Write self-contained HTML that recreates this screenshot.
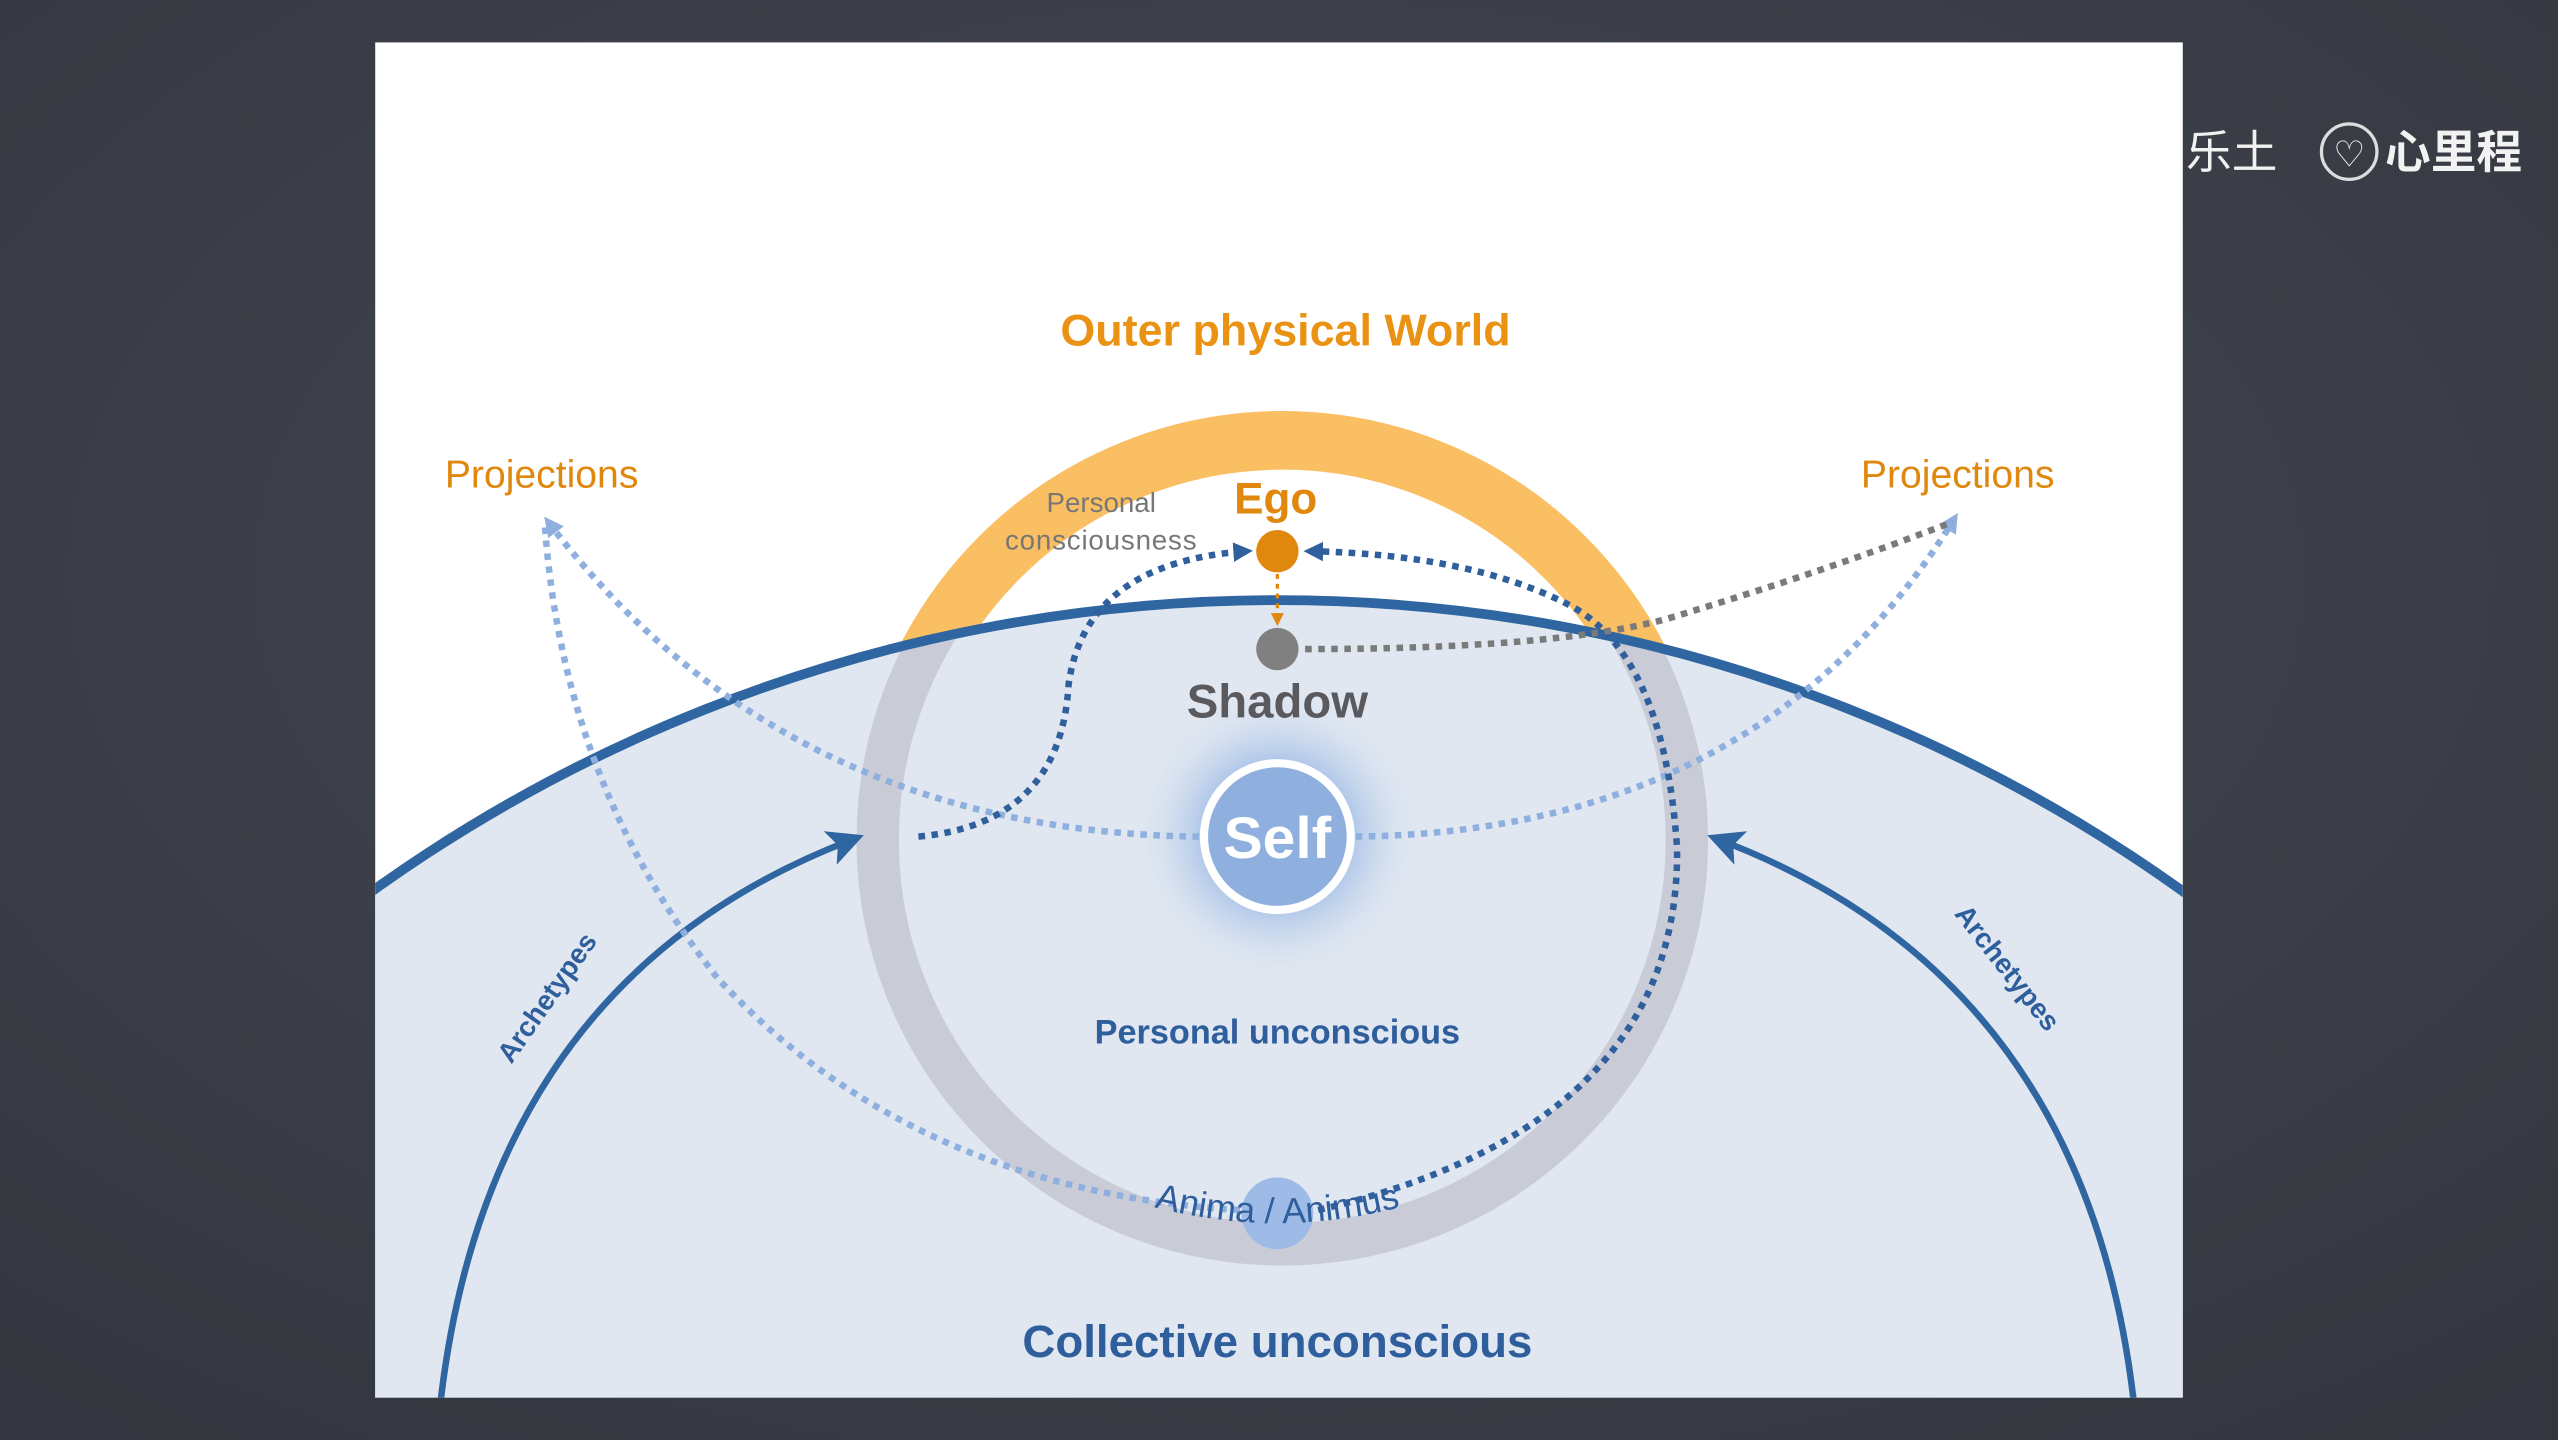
<!DOCTYPE html>
<html><head><meta charset="utf-8"><style>
html,body{margin:0;padding:0;background:#3b3e47;width:2558px;height:1440px;overflow:hidden}
svg{display:block;position:absolute;left:0;top:0}
</style></head><body>
<svg width="2558" height="1440" viewBox="0 0 1568 883" preserveAspectRatio="none" xmlns="http://www.w3.org/2000/svg" font-family="Liberation Sans, Arial, sans-serif">
<defs>
<radialGradient id="bg" cx="50%" cy="40%" r="75%"><stop offset="0" stop-color="#474a53"/><stop offset="1" stop-color="#33363e"/></radialGradient>
<clipPath id="panel"><rect x="230" y="26" width="1108" height="831"/></clipPath>
<clipPath id="below"><circle cx="783" cy="1320" r="952"/></clipPath>
<clipPath id="above"><path d="M0 0H1568V883H0Z M-169 1320A952 952 0 1 0 1735 1320A952 952 0 1 0 -169 1320Z" clip-rule="evenodd"/></clipPath>
<radialGradient id="glow"><stop offset="0.45" stop-color="#9dbbe6" stop-opacity="0.9"/><stop offset="1" stop-color="#dfe6f0" stop-opacity="0"/></radialGradient>
<marker id="al" markerWidth="12" markerHeight="12" refX="8" refY="6" orient="auto" markerUnits="userSpaceOnUse"><path d="M0 0L12 6L0 12Z" fill="#8fb0df"/></marker>
<marker id="ad" markerWidth="12" markerHeight="12" refX="8" refY="6" orient="auto" markerUnits="userSpaceOnUse"><path d="M0 0L12 6L0 12Z" fill="#2f5f9c"/></marker>
<marker id="ao" markerWidth="8" markerHeight="8" refX="6" refY="4" orient="auto" markerUnits="userSpaceOnUse"><path d="M0 0L8 4L0 8Z" fill="#e0870e"/></marker>
<marker id="aa" markerWidth="22" markerHeight="22" refX="14" refY="11" orient="auto" markerUnits="userSpaceOnUse"><path d="M0 0L22 11L0 22L5 11Z" fill="#2f65a0"/></marker>
<path id="pers" d="M620 330A180 180 0 0 1 946 330"/>
<path id="anim" d="M690 735Q783 765 876 735"/>
</defs>
<rect width="1568" height="883" fill="url(#bg)"/>
<text x="1340" y="103" font-size="28" fill="#f2f2f2" font-family="Noto Sans CJK SC, sans-serif">乐土</text>
<circle cx="1440" cy="93" r="17" fill="none" stroke="#ddd" stroke-width="2"/>
<text x="1440" y="102" font-size="22" fill="#eee" text-anchor="middle">♡</text>
<text x="1462" y="103" font-size="28" fill="#f2f2f2" font-weight="bold" font-family="Noto Sans CJK SC, sans-serif">心里程</text>
<rect x="230" y="26" width="1108" height="831" fill="#ffffff"/>
<g clip-path="url(#panel)">
<circle cx="783" cy="1320" r="952" fill="#e0e7f1"/>
<circle cx="783" cy="512" r="90" fill="url(#glow)"/>
<g clip-path="url(#below)"><circle cx="786" cy="515" r="248" fill="none" stroke="#c9ccd7" stroke-width="26"/></g>
<g clip-path="url(#above)"><circle cx="786" cy="515" r="245" fill="none" stroke="#fbbf63" stroke-width="36"/></g>
<circle cx="783" cy="1320" r="952" fill="none" stroke="#2f65a0" stroke-width="6"/>
<path d="M270 860Q300 600 522 515" fill="none" stroke="#2f65a0" stroke-width="4" marker-end="url(#aa)"/>
<path d="M1308 860Q1278 600 1054 515" fill="none" stroke="#2f65a0" stroke-width="4" marker-end="url(#aa)"/>
<g fill="none" stroke="#8fb0df" stroke-width="4" stroke-dasharray="4 4">
<path d="M735 513Q480 510 336 320" marker-end="url(#al)"/>
<path d="M831 513Q1080 510 1198 318" marker-end="url(#al)"/>
<path d="M760 742Q560 730 440 600Q345 480 334 322"/>
</g>
<g fill="none" stroke="#2f5f9c" stroke-width="4" stroke-dasharray="4 4">
<path d="M563 513Q650 505 655 420Q665 345 764 338" marker-end="url(#ad)"/>
<path d="M808 742Q1030 690 1028 520Q1020 400 960 370Q900 340 803 338" marker-end="url(#ad)"/>
</g>
<path d="M800 398Q950 398 1020 380Q1120 350 1197 320" fill="none" stroke="#7a7a7a" stroke-width="4" stroke-dasharray="4 4"/>
<line x1="783" y1="352" x2="783" y2="382" stroke="#e0870e" stroke-width="2" stroke-dasharray="3 3" marker-end="url(#ao)"/>
<circle cx="783" cy="338" r="13" fill="#e0870e"/>
<circle cx="783" cy="398" r="13" fill="#808080"/>
<circle cx="783" cy="513" r="45" fill="#8fb0df" stroke="#fff" stroke-width="5"/>
<text x="783" y="526" font-size="36" font-weight="bold" fill="#fff" text-anchor="middle">Self</text>
<circle cx="783" cy="744" r="22" fill="#9dbbe6"/>
<text font-size="22" fill="#2f5e9c"><textPath href="#anim" startOffset="50%" text-anchor="middle">Anima / Animus</textPath></text>
<text font-size="23" fill="#fff"><textPath href="#pers" startOffset="50%" text-anchor="middle">Persona</textPath></text>
<text x="788" y="212" font-size="27.5" font-weight="bold" fill="#ea9213" text-anchor="middle">Outer physical World</text>
<text x="332" y="299" font-size="24" fill="#e0870e" text-anchor="middle">Projections</text>
<text x="1200" y="299" font-size="24" fill="#e0870e" text-anchor="middle">Projections</text>
<text x="782" y="315" font-size="27" font-weight="bold" fill="#e0870e" text-anchor="middle">Ego</text>
<text x="675" y="314" font-size="17" fill="#777" text-anchor="middle">Personal</text>
<text x="675" y="337" font-size="17" fill="#777" text-anchor="middle" letter-spacing="0.5">consciousness</text>
<text x="783" y="440" font-size="29" font-weight="bold" fill="#5a5a5e" text-anchor="middle">Shadow</text>
<text x="783" y="640" font-size="21" font-weight="bold" fill="#2f5e9c" text-anchor="middle">Personal unconscious</text>
<text x="783" y="832" font-size="28" font-weight="bold" fill="#2f5e9c" text-anchor="middle">Collective unconscious</text>
<text transform="translate(340,615) rotate(-55)" font-size="17" font-weight="bold" fill="#2f5e9c" text-anchor="middle">Archetypes</text>
<text transform="translate(1226,597) rotate(52)" font-size="17" font-weight="bold" fill="#2f5e9c" text-anchor="middle">Archetypes</text>
</g>
</svg>
</body></html>
